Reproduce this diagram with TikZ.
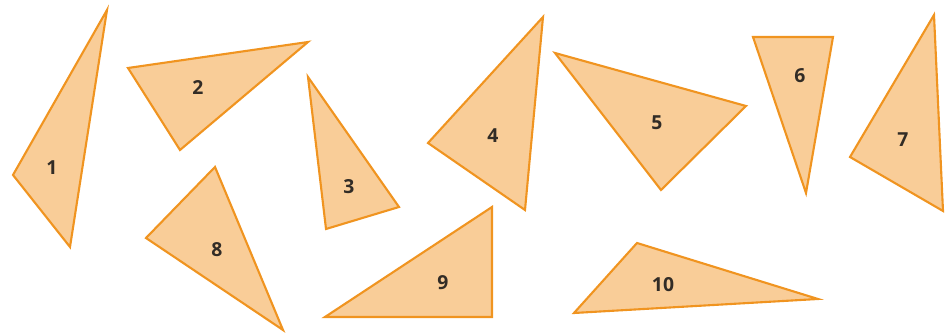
\documentclass[tikz,border=0pt]{standalone}
\usepackage{fontspec}
\setmainfont{Open Sans}
\usetikzlibrary{positioning}
\definecolor{trifill}{RGB}{249,205,152}
\definecolor{triedge}{RGB}{240,148,32}
\definecolor{ink}{RGB}{50,44,38}
\tikzset{
  tri/.style={draw=triedge,fill=trifill,line width=1.2pt},
  num/.style={font=\fontsize{11}{13}\selectfont\bfseries,text=ink,inner sep=1pt}
}

\begin{document}
\begin{tikzpicture}[x=0.02cm,y=-0.02cm]
  \useasboundingbox (0,0) rectangle (946,333);
  % the ten triangles: three corners, then the spot of the number
  \foreach \ax/\ay/\bx/\by/\cx/\cy/\lx/\ly [count=\i] in {
      107/10/13/175/70/247/52/168,
      128/68/308/42/180/150/198/88,
      308/77/326/229/399/207/349/187,
      543/17/428/143/525/210/493/136,
      555/53/746/106/661/190/657/123,
      753/37/833/37/806/193/800/76,
      934/15/850/157/943/211/903/140,
      215/167/146/238/283/330/217/250,
      325/317/492/207/492/317/443/283,
      637/243/818/299/574/313/663/285}
  {
    \draw[tri] (\ax,\ay) -- (\bx,\by) -- (\cx,\cy) -- cycle;
    \node[num] (t\i) at (\lx,\ly) {\i};
  }
\end{tikzpicture}
\end{document}
